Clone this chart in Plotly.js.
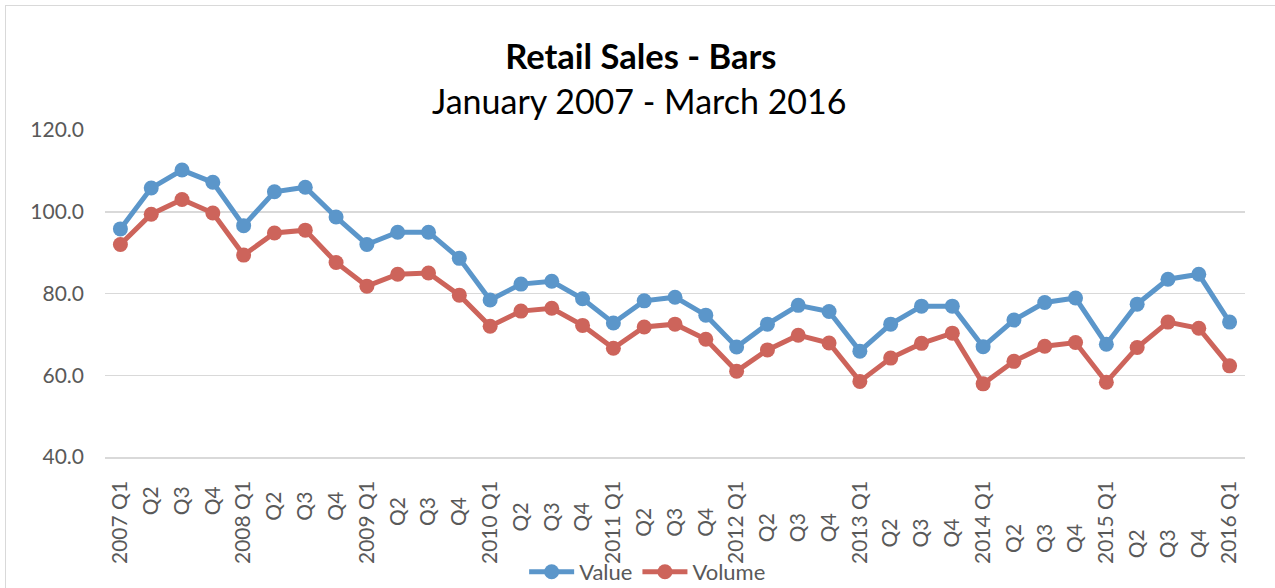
<!DOCTYPE html>
<html>
<head>
<meta charset="utf-8">
<script src="https://cdn.plot.ly/plotly-3.0.1.min.js"></script>
<style>
html,body{margin:0;padding:0;background:#fff;overflow:hidden;}
#frame{position:absolute;left:5px;top:5px;width:1290px;height:600px;border:1.5px solid #d9d9d9;box-sizing:border-box;}
#chart{position:absolute;left:0;top:0;width:1275px;height:588px;}
</style>
</head>
<body>
<div id="frame"></div>
<div id="chart"></div>
<script>
const categories = [
  "2007 Q1","Q2 ","Q3 ","Q4 ",
  "2008 Q1","Q2  ","Q3  ","Q4  ",
  "2009 Q1","Q2   ","Q3   ","Q4   ",
  "2010 Q1","Q2    ","Q3    ","Q4    ",
  "2011 Q1","Q2     ","Q3     ","Q4     ",
  "2012 Q1","Q2      ","Q3      ","Q4      ",
  "2013 Q1","Q2       ","Q3       ","Q4       ",
  "2014 Q1","Q2        ","Q3        ","Q4        ",
  "2015 Q1","Q2         ","Q3         ","Q4         ",
  "2016 Q1"
];
const valueSeries = [
  95.8,105.8,110.2,107.2,
  96.6,104.9,106.0,98.7,
  92.0,95.0,95.0,88.6,
  78.4,82.3,83.0,78.7,
  72.8,78.2,79.1,74.7,
  66.9,72.5,77.1,75.6,
  65.9,72.5,76.9,76.9,
  67.0,73.5,77.8,78.9,
  67.6,77.4,83.5,84.7,
  73.0
];
const volumeSeries = [
  92.0,99.4,103.0,99.7,
  89.4,94.8,95.5,87.6,
  81.8,84.7,85.0,79.6,
  72.0,75.7,76.4,72.2,
  66.6,71.8,72.5,68.8,
  61.0,66.2,69.8,67.9,
  58.5,64.2,67.8,70.3,
  57.9,63.4,67.1,68.0,
  58.3,66.8,73.0,71.5,
  62.3
];
const yTicks = [40,60,80,100,120];
const titleText = "Retail Sales - Bars";
const subtitleText = "January 2007 - March 2016";

const FONT = "Lato, 'Open Sans', sans-serif";
const traces = [
  {x: categories, y: valueSeries, name: "Value", type: "scatter", mode: "lines+markers",
   line: {color: "#5b96ca", width: 5}, marker: {color: "#5b96ca", size: 15}},
  {x: categories, y: volumeSeries, name: "Volume", type: "scatter", mode: "lines+markers",
   line: {color: "#cd645b", width: 5}, marker: {color: "#cd645b", size: 15}}
];
const layout = {
  width: 1275, height: 588,
  paper_bgcolor: "rgba(0,0,0,0)", plot_bgcolor: "rgba(0,0,0,0)",
  margin: {l: 105, r: 30, t: 130, b: 131},
  font: {family: FONT, color: "#595959", size: 20},
  title: {
    text: "<b>" + titleText + "</b>",
    font: {family: FONT, size: 34.5, color: "#000"},
    x: 0.47, xanchor: "center", xref: "paper",
    y: 1 - 57/588, yanchor: "middle", yref: "container"
  },
  annotations: [{
    text: subtitleText, xref: "paper", yref: "paper", x: 0.469, y: (457-100)/327,
    xanchor: "center", yanchor: "middle", showarrow: false,
    font: {family: FONT, size: 34, color: "#000"}
  }],
  xaxis: {
    type: "category", tickangle: -90, showgrid: false, range: [-0.5, 36.5],
    showline: true, linecolor: "#d9d9d9", linewidth: 1.5,
    ticks: "", ticklabelstandoff: 14, tickfont: {size: 21, color: "#595959"}, automargin: false
  },
  yaxis: {
    range: [40, 120], tickvals: yTicks, tickformat: ".1f",
    showgrid: true, gridcolor: "#d9d9d9", gridwidth: 1.5, zeroline: false,
    ticks: "", ticklabelstandoff: 20, tickfont: {size: 21, color: "#595959"}, automargin: false
  },
  showlegend: true,
  legend: {orientation: "h", x: 0.476, xanchor: "center", xref: "paper",
           y: 16/588, yanchor: "middle", yref: "container",
           font: {size: 22, color: "#595959"}, itemwidth: 45, tracegroupgap: 0},
  hovermode: false
};
Plotly.newPlot("chart", traces, layout, {displayModeBar: false, staticPlot: true});
</script>
</body>
</html>
